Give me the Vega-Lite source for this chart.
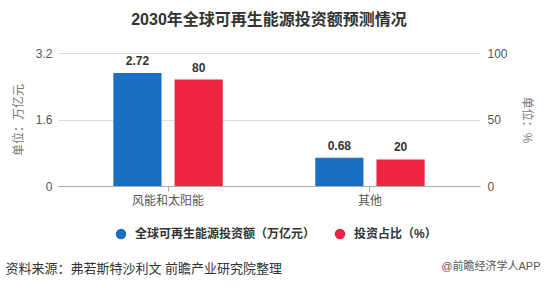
{
  "$schema": "https://vega.github.io/schema/vega-lite/v6.json",
  "width": 422,
  "height": 133,
  "autosize": {"type": "none"},
  "padding": {"left": 58, "top": 53, "right": 64, "bottom": 102},
  "background": "white",
  "title": {
    "text": "2030年全球可再生能源投资额预测情况",
    "fontSize": 16,
    "fontWeight": "bold",
    "color": "#333333",
    "font": "Liberation Sans, Noto Sans CJK SC",
    "anchor": "middle",
    "offset": 19
  },
  "config": {
    "view": {"stroke": null},
    "font": "Liberation Sans, Noto Sans CJK SC",
    "axis": {"labelColor": "#555555", "labelFontSize": 12, "titleColor": "#777777", "titleFontSize": 12, "titleFontWeight": "normal", "gridColor": "#dddddd", "domainColor": "#aaaaaa", "tickColor": "#aaaaaa"},
    "legend": {"labelFontSize": 12, "labelFontWeight": "bold", "labelColor": "#333333", "symbolType": "circle", "symbolSize": 110, "symbolStrokeWidth": 0, "labelLimit": 0}
  },
  "data": {
    "values": [
      {"cat": "风能和太阳能", "series": "全球可再生能源投资额（万亿元）", "value": 2.72},
      {"cat": "其他", "series": "全球可再生能源投资额（万亿元）", "value": 0.68},
      {"cat": "风能和太阳能", "series": "投资占比（%）", "value": 80},
      {"cat": "其他", "series": "投资占比（%）", "value": 20}
    ]
  },
  "encoding": {
    "x": {"field": "cat", "type": "nominal", "sort": ["风能和太阳能", "其他"], "scale": {"paddingInner": 0.458, "paddingOuter": 0.274}},
    "xOffset": {"field": "series", "type": "nominal", "sort": ["全球可再生能源投资额（万亿元）", "投资占比（%）"], "scale": {"domain": ["全球可再生能源投资额（万亿元）", "投资占比（%）"], "paddingInner": 0.213, "paddingOuter": 0}}
  },
  "layer": [
    {
      "transform": [{"filter": "datum.series === '全球可再生能源投资额（万亿元）'"}],
      "encoding": {
        "x": {"field": "cat", "type": "nominal", "sort": ["风能和太阳能", "其他"],
          "axis": {"orient": "bottom", "labelAngle": 0, "grid": false, "tickSize": 5, "labelPadding": 4,
            "title": "资料来源：弗若斯特沙利文 前瞻产业研究院整理", "titleAnchor": "start", "titleAlign": "left", "titleBaseline": "middle", "titleX": -53, "titleY": 82, "titleColor": "#333333", "titleFontSize": 13}},
        "y": {"field": "value", "type": "quantitative", "scale": {"domain": [0, 3.2], "nice": false},
          "axis": {"orient": "left", "values": [0, 1.6, 3.2], "labelExpr": "datum.value === 0 ? '0' : format(datum.value, '.1f')", "domain": false, "ticks": false, "labelPadding": 6, "title": "单位：万亿元", "titlePadding": 10}}
      },
      "layer": [
        {"mark": {"type": "bar"}, "encoding": {"color": {"field": "series", "type": "nominal", "scale": {"domain": ["全球可再生能源投资额（万亿元）", "投资占比（%）"], "range": ["#1b6fc2", "#ee2440"]}, "legend": {"title": null, "orient": "none", "direction": "horizontal", "legendX": 57, "legendY": 175, "columnPadding": 18, "labelOffset": 8}}}},
        {"mark": {"type": "text", "baseline": "bottom", "dy": -5, "fontSize": 12, "fontWeight": "bold", "color": "#333333"}, "encoding": {"text": {"field": "value", "type": "quantitative", "format": ".2f"}}}
      ]
    },
    {
      "transform": [{"filter": "datum.series === '投资占比（%）'"}],
      "encoding": {
        "x": {"field": "cat", "type": "nominal", "sort": ["风能和太阳能", "其他"],
          "axis": {"orient": "top", "labels": false, "ticks": false, "domain": false, "grid": false,
            "title": "@前瞻经济学人APP", "titleAnchor": "end", "titleAlign": "right", "titleBaseline": "middle", "titleX": 482, "titleY": 213, "titleColor": "#555555", "titleFontSize": 11}},
        "y": {"field": "value", "type": "quantitative", "scale": {"domain": [0, 100], "nice": false},
          "axis": {"orient": "right", "values": [0, 50, 100], "grid": false, "domain": false, "ticks": false, "labelPadding": 7, "title": "单位：%", "titlePadding": 12}}
      },
      "layer": [
        {"mark": {"type": "bar"}, "encoding": {"color": {"field": "series", "type": "nominal"}}},
        {"mark": {"type": "text", "baseline": "bottom", "dy": -5, "fontSize": 12, "fontWeight": "bold", "color": "#333333"}, "encoding": {"text": {"field": "value", "type": "quantitative", "format": "d"}}}
      ]
    }
  ],
  "resolve": {"scale": {"y": "independent"}, "axis": {"x": "independent"}}
}
